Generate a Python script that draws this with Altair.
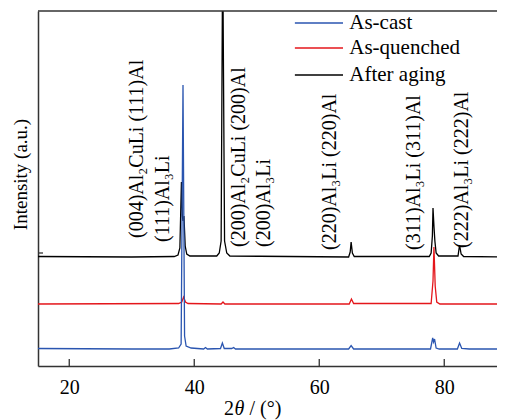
import altair as alt
import pandas as pd

# ---- data (intensity in arbitrary units, already offset per pattern) ----
cast_x = [15, 30, 36, 37.5, 37.9, 38.2, 38.45, 38.7, 39.5, 41.5, 41.8, 42.1, 44.2, 44.5, 44.8,
          46.0, 46.3, 46.6, 64.7, 65.1, 65.5, 77.8, 78.15, 78.3, 78.45, 78.7, 79.2, 82.1, 82.45,
          82.8, 84, 90]
cast_y = [17.5, 17, 17, 18, 22, 281, 30, 20, 18, 17, 18.5, 17, 17.5, 23, 17.5,
          17.5, 18.5, 17, 17, 20.5, 17, 17, 28, 24, 27, 18, 17, 17, 23,
          17.5, 17, 17]

quench_x = [15, 37.5, 38.0, 38.3, 38.6, 39.0, 44.3, 44.6, 44.9, 64.8, 65.15, 65.5, 77.9, 78.2,
            78.35, 78.45, 78.55, 78.8, 79.3, 90]
quench_y = [62, 62.5, 64, 69, 64, 62.5, 62, 64, 62, 62, 67, 62.5, 62.5, 85,
            119, 100, 80, 64, 62, 62]

aged_x = [15, 30, 36.8, 37.4, 37.7, 37.95, 38.1, 38.2, 38.35, 38.55, 38.8, 39.3, 43.6, 44.0,
          44.3, 44.55, 44.85, 45.2, 45.7, 64.7, 64.95, 65.1, 65.3, 65.6, 77.6, 77.9, 78.1, 78.2,
          78.35, 78.5, 78.7, 79.1, 82.2, 82.45, 82.7, 83.1, 90]
aged_y = [109.5, 109, 109.5, 111, 118, 184, 150, 145, 150, 120, 112, 110, 110, 113,
          125, 420, 125, 113, 110, 109, 114, 124, 113, 109.5, 109.5, 113, 130, 158,
          140, 125, 113, 110, 110, 121, 112, 109.5, 109]

series_names = ["As-cast", "As-quenched", "After aging"]
series_colors = ["#2a55b0", "#e4161b", "#000000"]
legend_y = [343, 318, 291]

ann_text = ["(004)Al₂CuLi (111)Al", "(111)Al₃Li", "(200)Al₂CuLi (200)Al", "(200)Al₃Li",
            "(220)Al₃Li (220)Al", "(311)Al₃Li (311)Al", "(222)Al₃Li (222)Al"]
ann_x = [30.8, 35.0, 47.1, 51.2, 61.7, 75.2, 82.8]
ann_y = [128, 124, 119, 119, 116, 116, 118]

x_ticks = [20, 40, 60, 80]

# x-axis title pieces (theta in italics)
xtitle_parts = ["2", "θ", "/ (°)"]
xtitle_styles = ["normal", "italic", "normal"]

FONT = "'Liberation Serif', 'Times New Roman', 'DejaVu Serif', serif"
W, H = 459, 355

xs = alt.Scale(domain=[15, 88.44], nice=False, zero=False)
ys = alt.Scale(domain=[0, 355], nice=False, zero=False)

xax = alt.Axis(values=x_ticks, tickSize=0, grid=False, labelFont=FONT, labelFontSize=20,
               labelColor="black", labelPadding=11, domainColor="#333", domainWidth=1.5,
               title=None)
yax = alt.Axis(labels=False, ticks=False, grid=False, domainColor="#333", domainWidth=1.5,
               title="Intensity (a.u.)", titleFont=FONT, titleFontSize=19,
               titleFontWeight="normal", titleColor="black", titleAngle=270,
               titleX=-18, titleY=163, titleAlign="center", titleBaseline="middle")


def X(field):
    return alt.X(field, type="quantitative", scale=xs, axis=xax)


def Y(field):
    return alt.Y(field, type="quantitative", scale=ys, axis=yax)


def line_layer(xv, yv, color):
    df = pd.DataFrame({"x": xv, "y": yv})
    return alt.Chart(df).mark_line(clip=True, strokeWidth=1.3, color=color).encode(
        x=X("x"), y=Y("y"),
    )


aged = line_layer(aged_x, aged_y, series_colors[2])
quench = line_layer(quench_x, quench_y, series_colors[1])
cast = line_layer(cast_x, cast_y, series_colors[0])

leg_df = pd.DataFrame({"name": series_names, "color": series_colors, "y": legend_y,
                       "x1": [56.1] * 3, "x2": [63.8] * 3, "xt": [64.8] * 3})
leg_lines = alt.Chart(leg_df).mark_rule(strokeWidth=1.5).encode(
    x=X("x1"), x2="x2:Q", y=Y("y"),
    color=alt.Color("color:N", scale=None, legend=None),
)
leg_text = alt.Chart(leg_df).mark_text(font=FONT, fontSize=21, align="left",
                                       baseline="middle", color="black").encode(
    x=X("xt"), y=Y("y"), text="name:N"
)

ann_df = pd.DataFrame({"t": ann_text, "x": ann_x, "y": ann_y})
ann = alt.Chart(ann_df).mark_text(font=FONT, fontSize=20, angle=270, align="left",
                                  baseline="middle", color="black").encode(
    x=X("x"), y=Y("y"), text="t:N"
)

tick_df = pd.DataFrame({"x": x_ticks, "y0": [0] * 4, "y1": [7] * 4})
ticks = alt.Chart(tick_df).mark_rule(color="#333", strokeWidth=1.3).encode(
    x=X("x"), y=Y("y0"), y2="y1:Q"
)

ytick_df = pd.DataFrame({"x0": [15], "x1": [15.8], "y": [113]})
yticks = alt.Chart(ytick_df).mark_rule(color="#333", strokeWidth=1.3).encode(
    x=X("x0"), x2="x1:Q", y=Y("y")
)

top = alt.Chart(pd.DataFrame({"a": [0]})).mark_rule(color="#333", strokeWidth=1.5).encode(
    x=alt.value(0), x2=alt.value(W), y=alt.value(0)
)

# x title assembled from pieces so theta can be italic
title_x_px = [186, 196.5, 211.5]
xtitle = [
    alt.Chart(pd.DataFrame({"t": [txt]})).mark_text(
        font=FONT, fontSize=20, fontStyle=sty, align="left", baseline="alphabetic",
        color="black").encode(x=alt.value(px), y=alt.value(H + 49), text="t:N")
    for txt, sty, px in zip(xtitle_parts, xtitle_styles, title_x_px)
]

chart = alt.layer(aged, quench, cast, leg_lines, leg_text, ann, ticks, yticks, top,
                  *xtitle).properties(
    width=W, height=H,
    autosize=alt.AutoSizeParams(type="none"),
    padding={"left": 30, "top": 3, "right": 0, "bottom": 54},
).configure_view(stroke=None)

chart.save("out.html", embed_options={"renderer": "svg", "actions": False})
